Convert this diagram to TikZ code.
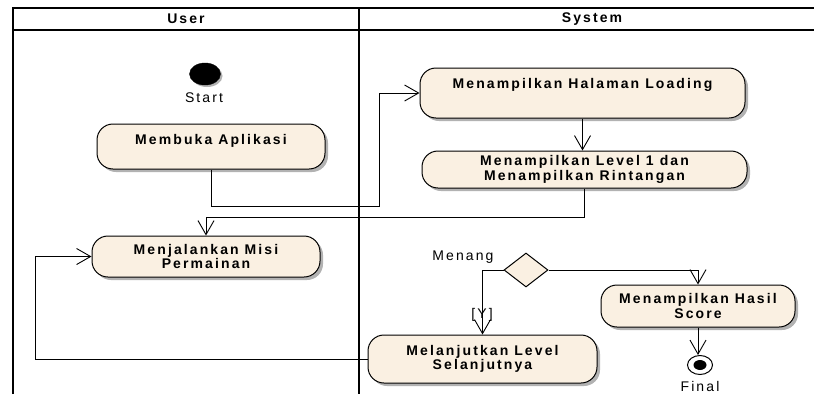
\documentclass[tikz,border=0pt]{standalone}
\usepackage{fontspec}
\setmainfont{Liberation Sans}[LetterSpace=15]
\usepackage{xcolor}
\usetikzlibrary{arrows.meta,shapes.geometric,shadows}
\definecolor{actfill}{RGB}{250,240,226}

\begin{document}
\begin{tikzpicture}[
    x=1pt, y=-1pt, % pixel units, y runs downwards
    lane/.style={draw, line width=1.6pt}, % swimlane borders
    actnode/.style={draw, line width=1pt, rectangle, rounded corners=16pt, fill=actfill, align=center, font=\bfseries\fontsize{14}{14.5}\selectfont, drop shadow={shadow xshift=3pt, shadow yshift=-3pt, fill=black!30, opacity=1}}, % activity boxes
    decnode/.style={draw, line width=1pt, diamond, fill=actfill, minimum width=44pt, minimum height=34pt, inner sep=0pt}, % decision
    flow/.style={draw, line width=0.9pt, -{Straight Barb[length=14pt,width=16pt]}}, % control flow
    txt/.style={font=\fontsize{14}{14.5}\selectfont} % plain labels
]
\useasboundingbox (0,0) rectangle (814,394);

% swimlanes
\draw[lane] (13,394) -- (13,8) -- (814,8);
\draw[lane, line width=1.2pt] (13,30) -- (814,30);
\draw[lane] (359,8) -- (359,394);
\node[txt, font=\bfseries\fontsize{14}{14.5}\selectfont] (userhdr) at (186,19) {User};
\node[txt, font=\bfseries\fontsize{14}{14.5}\selectfont] (systemhdr) at (592,19) {System};

% user lane
\node[draw, ellipse, fill=black, minimum width=31pt, minimum height=22pt, inner sep=0pt, drop shadow={shadow xshift=2pt, shadow yshift=-2pt, fill=black!30, opacity=1}] (start) at (205,74) {};
\node[txt] (startlbl) at (204,98) {Start};
\node[actnode, minimum width=228pt, minimum height=45pt, text height=10pt, text depth=15pt] (membuka) at (211,146.5) {Membuka Aplikasi};
\node[actnode, minimum width=228pt, minimum height=41pt] (menjalankan) at (206,256.5) {Menjalankan Misi\\Permainan};

% system lane
\node[actnode, minimum width=325pt, minimum height=50pt, text height=10pt, text depth=19pt] (loading) at (582.5,93) {Menampilkan Halaman Loading};
\node[actnode, minimum width=325pt, minimum height=37pt] (level) at (584.5,169.5) {Menampilkan Level 1 dan\\Menampilkan Rintangan};
\node[decnode] (menang) at (526,270) {};
\node[txt] (menanglbl) at (463,257) {Menang};
\node[actnode, minimum width=194pt, minimum height=42pt] (hasil) at (698,306) {Menampilkan Hasil\\Score};
\node[actnode, minimum width=229pt, minimum height=48pt] (lanjut) at (482.5,359) {Melanjutkan Level\\Selanjutnya};
\node[draw, ellipse, line width=1pt, fill=white, minimum width=25pt, minimum height=19pt, inner sep=0pt] (final) at (700,365) {};
\fill (final.center) ellipse (6.5pt and 5pt);
\node[txt] (finallbl) at (700,386) {Final};

% flows
\draw[flow] (membuka.south) |- (379,206) |- (loading.west);
\draw[flow] (loading.south) -- (loading.south |- level.north);
\draw[flow] (level.south) |- (206,217) -- (menjalankan.north);
\draw[flow] (menang.west) -| (lanjut.north);
\node[txt] (ylbl) at (482,315) {[Y]};
\draw[flow] (menang.east) -| (hasil.north);
\draw[flow] (hasil.south) -- (hasil.south |- final.north);
\draw[flow] (lanjut.west) -| (35,256.5) -- (menjalankan.west);
\end{tikzpicture}
\end{document}
